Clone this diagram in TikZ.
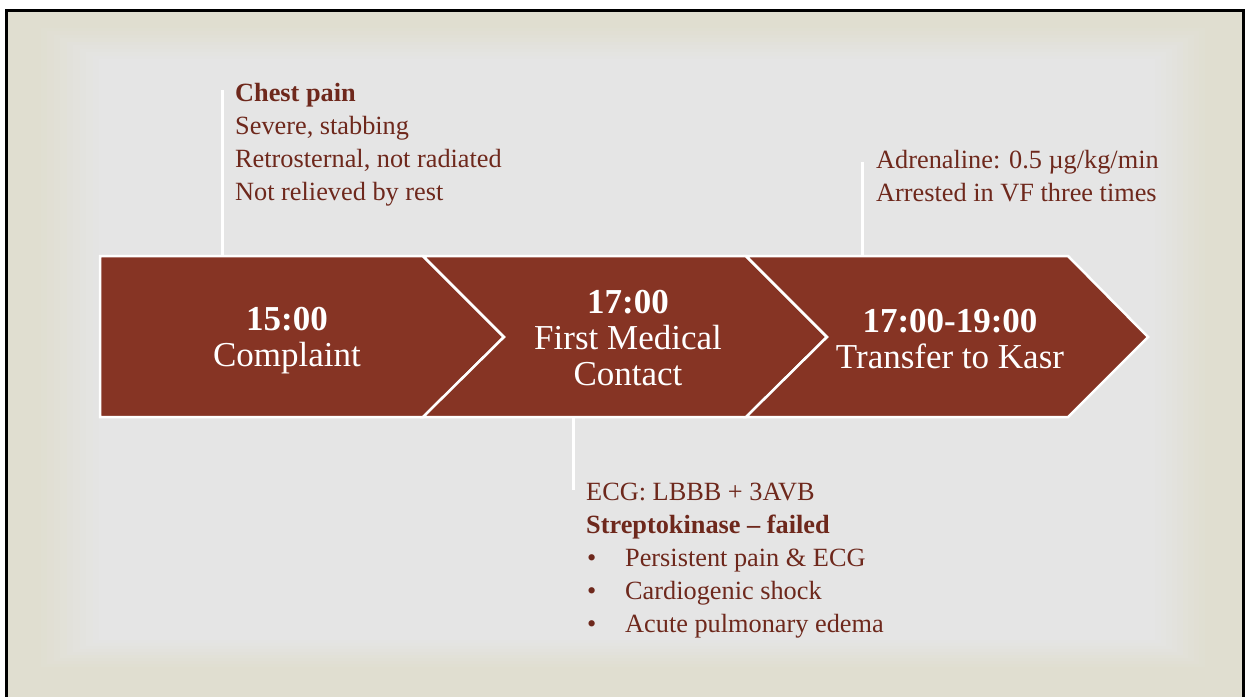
\documentclass[tikz,border=0pt]{standalone}
\usepackage{fontspec}
\setmainfont{Liberation Serif}
\usetikzlibrary{positioning}
\definecolor{rust}{RGB}{134,52,36}
\definecolor{ink}{RGB}{110,40,28}
\definecolor{paper}{RGB}{229,229,229}
\definecolor{sand}{RGB}{224,222,208}

\begin{document}
\begin{tikzpicture}[x=1pt, y=-1pt]
	\tikzset{stage/.style = {fill=rust, draw=white, line width=2.5pt}}
	\tikzset{caption/.style = {text=white, align=center, font=\fontsize{35}{36}\selectfont}}
	\tikzset{note/.style = {text=ink, align=left, anchor=north west, inner sep=0pt, font=\fontsize{26.3}{33}\selectfont}}
	\tikzset{leader/.style = {draw=white, line width=3pt}}
	\useasboundingbox (0,0) rectangle (1247,697);
	% slide background
	\fill[white] (0,0) rectangle (1247,697);
	\fill[black] (5,9) rectangle (1245,697);
	\fill[sand] (8,12) rectangle (1242,697);
	\foreach \i in {0,...,10}
		\fill[paper!\the\numexpr 10*\i\relax!sand]
			({34+6.5*\i}, {24+3.5*\i}) rectangle ({1210-5.5*\i}, {670-3*\i});
	% leaders
	\coordinate (pain) at (222,90);
	\coordinate (pain bar) at (222,256);
	\coordinate (drug) at (862,162);
	\coordinate (drug bar) at (862,256);
	\coordinate (ecg) at (573,490);
	\coordinate (ecg bar) at (573,417);
	\draw[leader] (pain bar) -- (pain);
	\draw[leader] (drug bar) -- (drug);
	\draw[leader] (ecg bar) -- (ecg);
	% timeline
	\path[stage] (100,256) -- (423,256) -- (504,337) -- (423,417) -- (100,417) -- cycle;
	\path[stage] (423,256) -- (746,256) -- (827,337) -- (746,417) -- (423,417) -- (504,337) -- cycle;
	\path[stage] (746,256) -- (1068,256) -- (1148,337) -- (1068,417) -- (746,417) -- (827,337) -- cycle;
	\node[caption] (complaint) at (287,341) {\textbf{15:00}\\Complaint};
	\node[caption] (contact) at (628,338) {\textbf{17:00}\\First Medical\\Contact};
	\node[caption] (transfer) at (950,339) {\textbf{17:00-19:00}\\Transfer to Kasr};
	% notes
	\node[note] (chest) at (235,83) {\textbf{Chest pain}\\Severe, stabbing\\Retrosternal, not radiated\\Not relieved by rest};
	\node[note] (adrenaline) at (876,150) {Adrenaline: 0.5 µg/kg/min\\Arrested in VF three times};
	\node[note] (strepto) at (586,483) {ECG: LBBB + 3AVB\\\textbf{Streptokinase – failed}\\
		\makebox[39pt][l]{\hspace{1pt}\textbullet}Persistent pain \& ECG\\
		\makebox[39pt][l]{\hspace{1pt}\textbullet}Cardiogenic shock\\
		\makebox[39pt][l]{\hspace{1pt}\textbullet}Acute pulmonary edema};
\end{tikzpicture}
\end{document}
